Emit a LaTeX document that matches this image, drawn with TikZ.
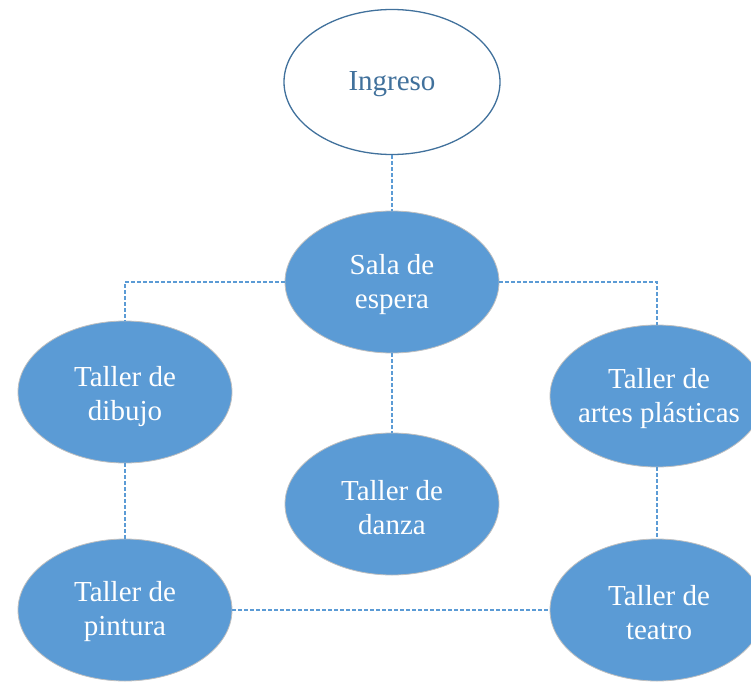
\documentclass[tikz,border=0pt]{standalone}
\usepackage{fontspec}
\setmainfont{Liberation Serif}
\usetikzlibrary{shapes.geometric}
\definecolor{boxblue}{HTML}{5B9BD5}
\definecolor{edgeblue}{HTML}{41719C}
\begin{document}
\begin{tikzpicture}[x=1pt,y=-1pt,
  bubble/.style={ellipse, minimum width=214pt, minimum height=142pt, inner sep=0pt,
    fill=boxblue, draw=black!25, line width=0.8pt},
  topbubble/.style={ellipse, minimum width=216pt, minimum height=145pt, inner sep=0pt,
    fill=white, draw=edgeblue, line width=1.3pt},
  btext/.style={text=white, align=center, inner sep=0pt, font=\fontsize{29}{34}\selectfont},
  ttext/.style={text=edgeblue, align=center, inner sep=0pt, font=\fontsize{29}{34}\selectfont},
  link/.style={draw=boxblue, line width=2.8pt, dash pattern=on 3.5pt off 2.5pt}]
\useasboundingbox (0,0) rectangle (751,682);
\node[topbubble] (ing) at (392,82) {};
\node[bubble] (sala) at (392,282) {};
\node[bubble] (dib) at (125,392) {};
\node[bubble] (art) at (657,396) {};
\node[bubble] (dan) at (392,504) {};
\node[bubble] (pin) at (125,610) {};
\node[bubble] (tea) at (657,610) {};
\node[ttext] (ingt) at (392,84) {Ingreso};
\node[btext] (salat) at (392,285) {Sala de\\espera};
\node[btext] (dibt) at (125,397) {Taller de\\dibujo};
\node[btext] (artt) at (659,399) {Taller de\\artes plásticas};
\node[btext] (dant) at (392,508) {Taller de\\danza};
\node[btext] (pint) at (125,612) {Taller de\\pintura};
\node[btext] (teat) at (659,613) {Taller de\\teatro};
\path[link] (ing.south) -- (sala.north);
\path[link] (sala.west) -| (dib.north);
\path[link] (sala.east) -| (art.north);
\path[link] (sala.south) -- (dan.north);
\path[link] (dib.south) -- (pin.north);
\path[link] (art.south) -- (tea.north);
\path[link] (pin.east) -- (tea.west);
\end{tikzpicture}
\end{document}
